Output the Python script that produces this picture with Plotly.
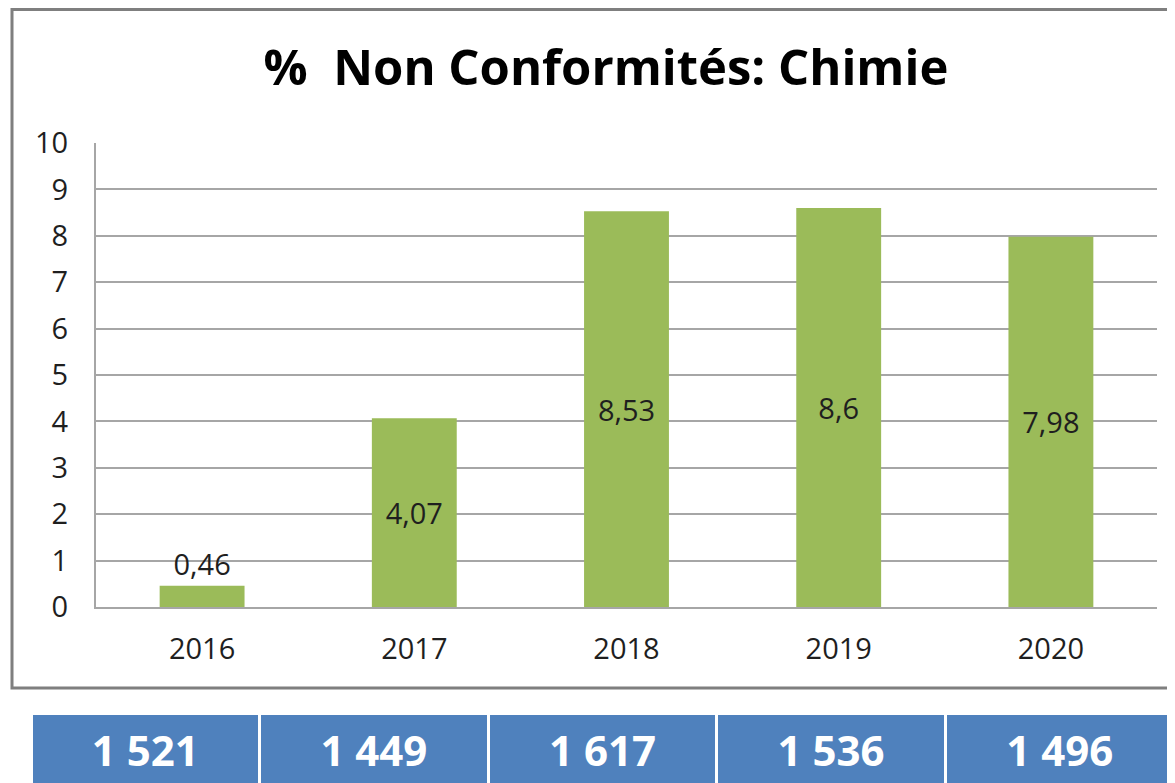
import plotly.graph_objects as go

# données
annees = ["2016", "2017", "2018", "2019", "2020"]
pct_non_conformes = [0.46, 4.07, 8.53, 8.6, 7.98]
etiquettes = ["0,46", "4,07", "8,53", "8,6", "7,98"]
nb_analyses = ["1 521", "1 449", "1 617", "1 536", "1 496"]

W, H = 1175, 783
OFF = 8  # marge par défaut du <body> de la page
VERT = "#9BBB59"
BLEU = "#4F81BD"
GRIS = "#a6a6a6"
TEXTE = "#1f1f1f"
POLICE = "Open Sans"


def px(x):
    # position écran -> coordonnée papier horizontale
    return (x - OFF) / W


def py(y):
    # position écran -> coordonnée papier verticale
    return 1 - (y - OFF) / H


fig = go.Figure()

fig.add_trace(go.Bar(
    x=annees,
    y=pct_non_conformes,
    text=etiquettes,
    textposition="auto",
    insidetextanchor="middle",
    constraintext="none",
    textangle=0,
    textfont=dict(family=POLICE, size=29, color=TEXTE),
    marker=dict(color=VERT, line=dict(width=0)),
    cliponaxis=False,
    showlegend=False,
))

# tableau des effectifs sous le graphique
fig.add_trace(go.Table(
    domain=dict(x=[px(31), px(1174)], y=[0, py(713)]),
    header=dict(
        values=[f"<b>{v}</b>" for v in nb_analyses],
        fill_color=BLEU,
        line=dict(color="white", width=3),
        font=dict(family=POLICE, size=42, color="white"),
        align="center",
        height=80,
    ),
    cells=dict(values=[[] for _ in nb_analyses]),
))

fig.update_layout(
    width=W, height=H, autosize=False,
    margin=dict(l=0, r=0, t=0, b=0, pad=0),
    paper_bgcolor="white",
    plot_bgcolor="white",
    bargap=0.6,
    title=dict(
        text="<b>%  Non Conformités: Chimie</b>",
        x=px(606), xanchor="center",
        y=py(68), yanchor="middle",
        font=dict(family=POLICE, size=49, color="black"),
        automargin=False,
    ),
    xaxis=dict(
        domain=[px(96), px(1157)],
        type="category", automargin=False,
        showgrid=False,
        showline=True, linecolor=GRIS, linewidth=2,
        ticks="", ticklabelstandoff=15,
        tickfont=dict(family=POLICE, size=29, color=TEXTE),
        fixedrange=True,
    ),
    yaxis=dict(
        domain=[py(607), py(143)],
        range=[0, 10], dtick=1, automargin=False,
        showgrid=True, gridcolor=GRIS, gridwidth=2,
        zeroline=False,
        showline=True, linecolor=GRIS, linewidth=2,
        ticks="", ticklabelstandoff=20,
        tickfont=dict(family=POLICE, size=29, color=TEXTE),
        fixedrange=True,
    ),
    shapes=[dict(
        type="rect", xref="paper", yref="paper",
        x0=px(12), x1=1.02, y0=py(688), y1=1 - 1.5 / H,
        line=dict(color="#7f7f7f", width=3),
        fillcolor="rgba(0,0,0,0)",
        layer="below",
    )],
)

fig.write_html("out.html", config={"responsive": False})
